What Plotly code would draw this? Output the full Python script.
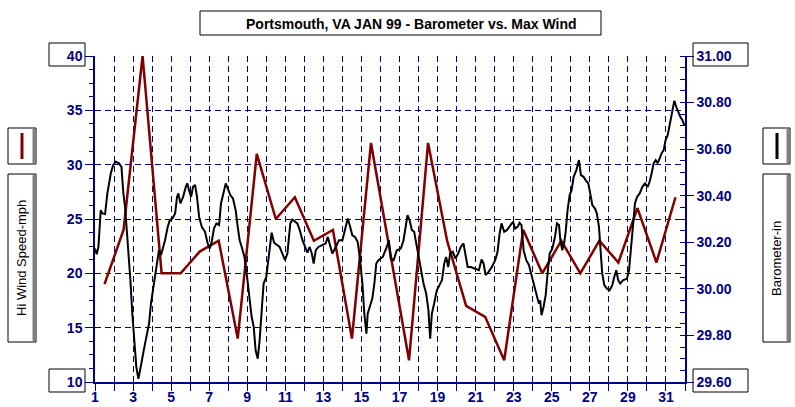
import plotly.graph_objects as go

# ---------------- data ----------------
wind_day = [d + 0.5 for d in range(1, 32)]
wind_mph = [19, 24, 40, 20, 20, 22, 23, 14, 31, 25, 27, 23, 24, 14, 32, 22,
            12, 32, 23, 17, 16, 12, 24, 20, 23, 20, 23, 21, 26, 21, 27]

baro_day = [
    1.00, 1.05, 1.09, 1.18, 1.30, 1.39, 1.53, 1.65, 1.83, 1.95, 2.09, 2.26, 2.39, 2.49,
    2.58, 2.67, 2.75, 2.86, 2.96, 3.07, 3.17, 3.28, 3.35, 3.45, 3.56, 3.70, 3.84, 3.94,
    4.05, 4.15, 4.26, 4.36, 4.47, 4.54, 4.68, 4.82, 4.93, 5.07, 5.21, 5.31, 5.38, 5.49,
    5.63, 5.77, 5.85, 5.94, 6.05, 6.15, 6.26, 6.36, 6.47, 6.61, 6.78, 6.92, 7.03, 7.13,
    7.25, 7.38, 7.52, 7.62, 7.76, 7.87, 8.01, 8.11, 8.25, 8.39, 8.50, 8.60, 8.71, 8.85,
    8.99, 9.09, 9.23, 9.34, 9.44, 9.55, 9.65, 9.76, 9.86, 10.00, 10.14, 10.28, 10.41,
    10.58, 10.70, 10.84, 10.98, 11.11, 11.19, 11.26, 11.37, 11.51, 11.63, 11.76, 11.90,
    12.04, 12.16, 12.28, 12.39, 12.49, 12.60, 12.74, 12.95, 13.12, 13.23, 13.33, 13.47,
    13.65, 13.82, 14.00, 14.14, 14.28, 14.38, 14.52, 14.66, 14.80, 14.91, 15.05, 15.15,
    15.26, 15.33, 15.47, 15.57, 15.68, 15.78, 15.89,
    16.12, 16.33, 16.44, 16.54, 16.69, 16.86, 17.07, 17.21, 17.35, 17.42, 17.53, 17.65,
    17.77, 17.88, 18.00, 18.12, 18.26, 18.40, 18.52, 18.61, 18.70, 18.82, 18.96, 19.10,
    19.23, 19.35, 19.45, 19.56, 19.66, 19.80, 19.94, 20.08, 20.22, 20.36, 20.47, 20.58,
    20.75, 20.98, 21.17, 21.31, 21.42, 21.52, 21.68, 21.85, 22.03, 22.15, 22.26, 22.36,
    22.50, 22.64, 22.82, 22.96, 23.08, 23.20, 23.31, 23.41, 23.52, 23.66, 23.80, 23.94,
    24.08, 24.22, 24.32, 24.39, 24.46, 24.57, 24.68, 24.78, 24.89, 25.03, 25.17, 25.27,
    25.38, 25.45, 25.55, 25.66, 25.73, 25.83, 25.94, 26.04, 26.15, 26.29, 26.43, 26.53,
    26.67, 26.78, 26.92, 27.02, 27.13, 27.27, 27.37, 27.48, 27.55, 27.65, 27.76, 27.90,
    28.04, 28.18, 28.28, 28.39, 28.49, 28.60, 28.74, 28.95, 29.06, 29.16, 29.27, 29.37,
    29.48, 29.62, 29.76, 29.90, 30.04, 30.14, 30.25, 30.35, 30.46, 30.56, 30.67, 30.77,
    30.88, 30.98, 31.09, 31.16, 31.23, 31.33, 31.44, 31.54, 31.65, 31.75, 31.86, 31.96,
]
baro_inhg = [
    30.173, 30.155, 30.149, 30.180, 30.338, 30.324, 30.321, 30.410, 30.496, 30.531, 30.546,
    30.539, 30.524, 30.410, 30.352, 30.252, 30.166, 30.037, 29.894, 29.765, 29.665, 29.614,
    29.650, 29.686, 29.736, 29.801, 29.851, 29.937, 29.994, 30.051, 30.109, 30.166, 30.145,
    30.166, 30.209, 30.266, 30.295, 30.302, 30.324, 30.395, 30.410, 30.367, 30.395, 30.438,
    30.453, 30.424, 30.395, 30.438, 30.446, 30.395, 30.309, 30.266, 30.245, 30.195, 30.173,
    30.202, 30.259, 30.281, 30.274, 30.367, 30.424, 30.453, 30.424, 30.403, 30.388, 30.338,
    30.266, 30.209, 30.180, 30.137, 30.051, 29.966, 29.880, 29.837, 29.736, 29.700, 29.779,
    29.908, 30.023, 30.051, 30.137, 30.241, 30.198, 30.188, 30.180, 30.152, 30.123, 30.152,
    30.209, 30.281, 30.298, 30.288, 30.281, 30.252, 30.209, 30.180, 30.155, 30.180, 30.152,
    30.109, 30.166, 30.180, 30.188, 30.195, 30.223, 30.195, 30.152, 30.180, 30.209, 30.209,
    30.252, 30.302, 30.274, 30.230, 30.223, 30.202, 30.137, 30.023, 29.894, 29.808, 29.894,
    29.937, 29.958, 30.023, 30.109, 30.123,
    30.137, 30.180, 30.209, 30.130, 30.123, 30.166, 30.173, 30.209, 30.295, 30.317, 30.295,
    30.252, 30.245, 30.195, 30.137, 30.080, 30.023, 29.980, 29.908, 29.786, 29.894, 29.937,
    29.994, 30.016, 30.037, 30.109, 30.137, 30.094, 30.152, 30.159, 30.130, 30.152, 30.180,
    30.195, 30.152, 30.094, 30.094, 30.087, 30.080, 30.126, 30.109, 30.059, 30.073, 30.094,
    30.123, 30.159, 30.238, 30.281, 30.245, 30.252, 30.274, 30.288, 30.259, 30.266, 30.284,
    30.274, 30.166, 30.123, 30.102, 30.059, 30.008, 29.966, 29.937, 29.951, 29.887, 29.923,
    29.973, 30.066, 30.152, 30.173, 30.223, 30.281, 30.274, 30.209, 30.166, 30.202, 30.245,
    30.338, 30.403, 30.424, 30.481, 30.510, 30.553, 30.488, 30.481, 30.467, 30.453, 30.410,
    30.360, 30.345, 30.324, 30.266, 30.166, 30.066, 30.016, 30.001, 29.994, 30.016, 30.051,
    30.080, 30.037, 30.023, 30.037, 30.044, 30.080, 30.166, 30.252, 30.367, 30.395, 30.410,
    30.438, 30.453, 30.438, 30.460, 30.496, 30.539, 30.553, 30.539, 30.560, 30.582, 30.596,
    30.639, 30.660, 30.689, 30.725, 30.768, 30.808, 30.782, 30.754, 30.739, 30.725, 30.703,
]

x_tick_vals = list(range(1, 33))
x_tick_text = [str(d) if d % 2 == 1 else "" for d in x_tick_vals]
wind_ticks = [10, 15, 20, 25, 30, 35, 40]
baro_ticks = [29.6, 29.8, 30.0, 30.2, 30.4, 30.6, 30.8, 31.0]

title_text = "Portsmouth, VA JAN 99 - Barometer vs. Max Wind"
left_label = "Hi Wind Speed-mph"
right_label = "Barometer-in"

# ---------------- styling ----------------
NAVY = "#000080"
DARKRED = "#800000"
FONT = "Liberation Sans, Arial, sans-serif"
W, H = 795, 407
L, R, T, B = 95, 110, 56, 25
PW, PH = W - L - R, H - T - B


def px(xp):
    return (xp - L) / PW


def py(yp):
    return (H - B - yp) / PH


fig = go.Figure()
fig.add_trace(go.Scatter(x=wind_day, y=wind_mph, mode="lines",
                         line=dict(color=DARKRED, width=2.5), yaxis="y",
                         showlegend=False, hoverinfo="skip"))
fig.add_trace(go.Scatter(x=baro_day, y=baro_inhg, mode="lines",
                         line=dict(color="black", width=2), yaxis="y2",
                         showlegend=False, hoverinfo="skip"))

tickfont = dict(family=FONT, size=14, color=NAVY, weight="bold")

fig.update_layout(
    width=W, height=H,
    margin=dict(l=L, r=R, t=T, b=B, pad=0, autoexpand=False),
    paper_bgcolor="white", plot_bgcolor="white",
    xaxis=dict(range=[1, 32], tickmode="array", tickvals=x_tick_vals,
               ticktext=x_tick_text, ticks="outside", ticklen=7, tickcolor=NAVY,
               ticklabelstandoff=-6,
               showline=True, linecolor=NAVY, linewidth=1.5, automargin=False,
               showgrid=True, gridcolor=NAVY, gridwidth=1, griddash="6px,4px",
               zeroline=False, tickfont=tickfont, fixedrange=True),
    yaxis=dict(range=[10, 40], tickmode="array", tickvals=wind_ticks,
               ticks="outside", ticklen=8, tickcolor=NAVY, automargin=False,
               showline=True, linecolor=NAVY, linewidth=1.5,
               showgrid=True, gridcolor=NAVY, gridwidth=1, griddash="6px,4px",
               zeroline=False, tickfont=tickfont,
               minor=dict(dtick=1.25, tick0=10, ticks="outside", ticklen=4,
                          tickcolor=NAVY, showgrid=False)),
    yaxis2=dict(range=[29.6, 31.0], overlaying="y", side="right",
                tickmode="array", tickvals=baro_ticks, tickformat=".2f",
                ticks="outside", ticklen=7, tickcolor=NAVY, automargin=False,
                showline=True, linecolor=NAVY, linewidth=1.5,
                showgrid=False, zeroline=False, tickfont=tickfont,
                minor=dict(dtick=0.05, tick0=29.6, ticks="inside", ticklen=5,
                           tickcolor=NAVY, showgrid=False)),
)

shapes = []
annotations = []


def box(x0, y0, x1, y1, shadow=False):
    shapes.append(dict(type="rect", xref="paper", yref="paper",
                       x0=px(x0), x1=px(x1), y0=py(y1), y1=py(y0),
                       line=dict(color="black", width=1), fillcolor="rgba(0,0,0,0)",
                       layer="above"))
    if shadow:
        shapes.append(dict(type="rect", xref="paper", yref="paper",
                           x0=px(x1 - 3.5), x1=px(x1 - 0.5), y0=py(y1 - 1), y1=py(y0 + 1),
                           line=dict(width=0), fillcolor="#808080", layer="above"))


# title box
box(200, 11, 601, 35)
annotations.append(dict(text=title_text, xref="paper", yref="paper",
                        x=px(411), y=py(23.5), xanchor="center", yanchor="middle",
                        showarrow=False,
                        font=dict(family=FONT, size=14, color="black", weight="bold")))

# end-label boxes
box(49, 43, 85, 66)
box(49, 369, 85, 392)
box(693, 43, 748, 66)
box(693, 369, 748, 392)

# legend swatches
box(8, 128, 36, 164, shadow=True)
shapes.append(dict(type="line", xref="paper", yref="paper",
                   x0=px(22), x1=px(22), y0=py(159), y1=py(133),
                   line=dict(color=DARKRED, width=3), layer="above"))
box(763, 128, 790, 164, shadow=True)
shapes.append(dict(type="line", xref="paper", yref="paper",
                   x0=px(777), x1=px(777), y0=py(159), y1=py(133),
                   line=dict(color="black", width=3), layer="above"))

# axis title boxes
box(8, 174, 36, 342, shadow=True)
annotations.append(dict(text=left_label, xref="paper", yref="paper",
                        x=px(21), y=py(258), xanchor="center", yanchor="middle",
                        textangle=-90, showarrow=False,
                        font=dict(family=FONT, size=13, color="black")))
box(763, 174, 790, 342, shadow=True)
annotations.append(dict(text=right_label, xref="paper", yref="paper",
                        x=px(776), y=py(258), xanchor="center", yanchor="middle",
                        textangle=-90, showarrow=False,
                        font=dict(family=FONT, size=13, color="black")))

fig.update_layout(shapes=shapes, annotations=annotations)
fig.write_html("out.html", config={"displayModeBar": False},
               post_script="document.body.style.margin='0';document.body.style.overflow='hidden';")
